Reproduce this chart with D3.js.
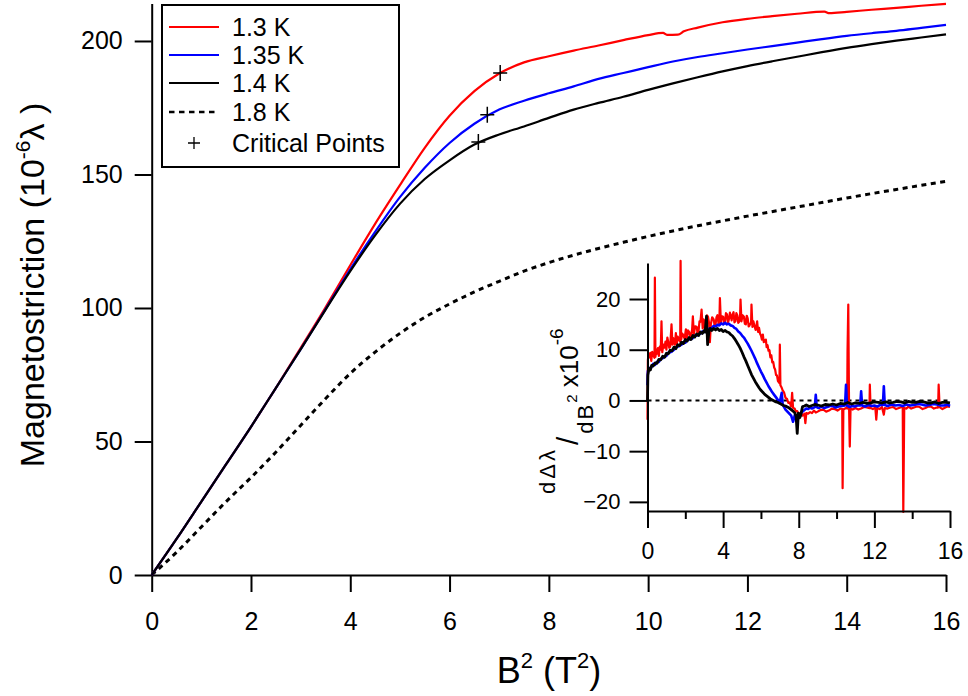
<!DOCTYPE html>
<html><head><meta charset="utf-8">
<script src="https://cdn.jsdelivr.net/npm/d3@7"></script>
<style>
body{margin:0;background:#fff}
svg{display:block}
text{font-family:"Liberation Sans",Arial,Helvetica,sans-serif;fill:#000}
</style>
</head><body>
<svg id="chart" width="968" height="696"></svg>
<script>
// ---------- data ----------
const mainXTicks = [0, 2, 4, 6, 8, 10, 12, 14, 16];
const mainYTicks = [0, 50, 100, 150, 200];
const insetXMajorTicks = [0, 4, 8, 12, 16];
const insetXMinorTicks = [2, 6, 10, 14];
const insetYTicks = [-20, -10, 0, 10, 20];
const legendLabels = ["1.3 K", "1.35 K", "1.4 K", "1.8 K", "Critical Points"];

const curve13K = [[0,0],[0.5,13.5],[1,27.5],[1.5,41.5],[2,55.5],[2.5,70],[3,85],[3.5,100.2],[4,116],[4.5,131.5],[5,146],[5.5,160],[6,172],[6.5,181.2],[7,187.8],[7.5,192],[8,194.3],[8.5,196.4],[9,198.3],[9.5,200.3],[10,202.2],[10.3,203],[10.38,202.3],[10.6,202.4],[10.72,203.6],[11,205],[11.5,207],[12,208.3],[12.5,209.3],[13,210.2],[13.55,211],[13.65,210.4],[14,210.9],[14.5,211.7],[15,212.4],[15.5,213.2],[16,213.9]];
const curve135K = [[0,0],[0.5,13.5],[1,27.5],[1.5,41.5],[2,55.5],[2.5,70],[3,84.5],[3.5,99.5],[4,114.5],[4.5,128.5],[5,141.5],[5.5,152.5],[6,161.8],[6.5,169],[7,174.3],[7.5,177.6],[8,180.4],[8.5,183],[9,185.8],[9.5,188],[10,190.2],[10.5,192.3],[11,194],[11.5,195.4],[12,196.8],[12.5,198.1],[13,199.4],[13.5,200.7],[14,201.9],[14.5,202.9],[15,203.8],[15.5,204.9],[16,206]];
const curve14K = [[0,0],[0.5,13.5],[1,27.5],[1.5,41.5],[2,55.5],[2.5,70],[3,84.5],[3.5,99.3],[4,113.8],[4.5,127.2],[5,139],[5.5,148.3],[6,155.3],[6.5,161.2],[7,165],[7.5,168],[8,171.2],[8.5,174.3],[9,176.8],[9.5,179.1],[10,181.7],[10.5,184.1],[11,186.4],[11.5,188.6],[12,190.6],[12.5,192.4],[13,194.1],[13.5,195.8],[14,197.4],[14.5,198.8],[15,200.1],[15.5,201.3],[16,202.5]];
const curve18K = [[0,0],[0.5,8.5],[1,18],[1.5,27.5],[2,36.5],[2.5,46],[3,56],[3.5,66],[4,75.5],[4.5,83.5],[5,90.5],[5.5,96.5],[6,101.5],[6.5,106],[7,110],[7.5,113.8],[8,117],[8.5,119.8],[9,122.3],[9.5,124.6],[10,126.8],[11,130.8],[12,134.4],[13,137.8],[14,141.2],[15,144.4],[16,147.4]];
const criticalPoints = [[7.02,188],[6.76,172.4],[6.58,162.2]];

const deriv13K = [[0,-3.8],[0.02,8],[0.06,9.2],[0.1,8.5],[0.15,9.4],[0.2,7.8],[0.25,9.6],[0.3,9],[0.37,8.4],[0.39,24.2],[0.42,8.6],[0.47,10],[0.5,9.2],[0.55,10.3],[0.6,8.8],[0.65,10.6],[0.7,10],[0.74,15.6],[0.78,9.5],[0.84,11],[0.9,10.4],[0.95,11.6],[1.0,10],[1.05,12.4],[1.1,11.5],[1.15,10.4],[1.2,10.6],[1.27,15],[1.32,11],[1.36,12.3],[1.4,11.8],[1.45,11],[1.5,13.3],[1.55,11.2],[1.6,12.6],[1.65,12],[1.73,11.6],[1.75,27.5],[1.78,12],[1.84,13.2],[1.9,12.8],[1.96,12.2],[2.03,14],[2.08,12.3],[2.14,13.8],[2.2,13.5],[2.25,12.7],[2.3,12.8],[2.36,14],[2.4,16.6],[2.45,13],[2.52,14.6],[2.6,14.5],[2.65,13.2],[2.7,13.6],[2.75,15.6],[2.8,15.5],[2.86,17.9],[2.92,14.2],[2.96,16],[3.0,15.8],[3.05,14],[3.1,14.5],[3.15,16.8],[3.2,16.5],[3.26,15.2],[3.3,11.5],[3.35,15],[3.42,16.4],[3.5,16],[3.55,14.8],[3.6,15],[3.65,16.4],[3.7,16.8],[3.76,15.1],[3.8,15.2],[3.83,20.2],[3.88,15.4],[3.94,16.6],[4.0,16.5],[4.05,15.2],[4.1,15.5],[4.15,17.2],[4.2,17],[4.26,15.3],[4.3,15.9],[4.36,17.3],[4.45,15.8],[4.5,16.9],[4.55,17.4],[4.6,15.4],[4.65,15.6],[4.7,17.2],[4.75,16.8],[4.8,15.3],[4.85,15.5],[4.9,16.9],[4.92,19.9],[4.97,15.6],[5.03,16.8],[5.1,16.5],[5.15,15.1],[5.2,15],[5.25,16.7],[5.3,16.2],[5.35,14.6],[5.4,14.8],[5.48,15.4],[5.5,18.9],[5.55,14.5],[5.6,15.6],[5.65,14.8],[5.72,13.9],[5.8,15.6],[5.85,13.5],[5.9,14.3],[5.95,13.2],[6.0,12.8],[6.05,12],[6.1,13],[6.15,11.5],[6.2,11.8],[6.26,12],[6.3,10.5],[6.35,10.9],[6.4,9.8],[6.45,9.9],[6.5,8.5],[6.55,8.9],[6.6,7.5],[6.65,7.6],[6.7,6.5],[6.75,6.1],[6.8,5],[6.85,4.9],[6.9,3.8],[6.98,3.4],[7.0,11],[7.03,3],[7.1,2.5],[7.15,2],[7.22,1.6],[7.3,0.5],[7.38,0.3],[7.45,-0.5],[7.52,-0.4],[7.6,-1.2],[7.65,1.5],[7.7,-1.5],[7.78,-1.6],[7.85,-2.2],[7.92,-2.1],[8.0,-2.8],[8.1,-2.4],[8.2,-3],[8.3,-2.6],[8.35,-4.5],[8.4,-2.5],[8.5,-2.6],[8.6,-2.3],[8.7,-2.5],[8.8,-2],[8.9,-2.4],[9.0,-2.2],[9.15,-1.9],[9.3,-1.8],[9.45,-2.2],[9.6,-2],[9.75,-1.6],[9.9,-1.7],[10.05,-2],[10.2,-1.6],[10.3,-1.7],[10.32,-17.3],[10.36,-1.8],[10.5,-1.5],[10.56,-1.6],[10.58,9.7],[10.62,18.9],[10.66,-1],[10.7,-9.1],[10.74,-1.6],[10.85,-1.8],[11.0,-1.5],[11.15,-1.8],[11.3,-1.6],[11.45,-1.3],[11.6,-1.4],[11.74,-1.5],[11.76,3.1],[11.8,-1.5],[11.92,-1.7],[12.05,-1.4],[12.1,-3.8],[12.15,-1.5],[12.28,-1.7],[12.4,-1.3],[12.5,-2.8],[12.55,-1.5],[12.7,-1.6],[12.85,-1.4],[13.0,-1.3],[13.15,-1.7],[13.3,-1.5],[13.45,-1.3],[13.5,-1.4],[13.53,-22],[13.58,-1.5],[13.7,-1.6],[13.8,-1.2],[13.95,-1.6],[14.1,-1.4],[14.25,-1.2],[14.4,-1.3],[14.55,-1.7],[14.7,-1.5],[14.85,-1.2],[15.0,-1.2],[15.15,-1.6],[15.3,-1.4],[15.37,-1.4],[15.4,3.1],[15.45,-1.3],[15.6,-1.7],[15.7,-1.5],[15.85,-1.2],[16,-1.3]];
const deriv135K = [[0,3],[0.02,5.8],[0.1,6.4],[0.2,6.5],[0.3,7.2],[0.4,7],[0.5,7.6],[0.6,7.6],[0.7,8.2],[0.8,8.3],[0.9,8.6],[1.0,8.8],[1.1,9.4],[1.2,9.5],[1.3,9.7],[1.4,10],[1.5,10.5],[1.6,10.6],[1.7,10.8],[1.8,11],[1.9,11.5],[2.0,11.4],[2.1,11.9],[2.2,12],[2.3,12.1],[2.4,12.3],[2.5,12.8],[2.6,12.8],[2.7,13],[2.8,13.2],[2.9,13.6],[3.0,13.5],[3.1,13.8],[3.2,14],[3.3,14.2],[3.4,14.3],[3.5,14.7],[3.6,14.6],[3.7,14.9],[3.8,14.8],[3.9,15.2],[4.0,15],[4.1,15.3],[4.2,15],[4.3,15.1],[4.4,14.8],[4.5,14.7],[4.6,14.3],[4.7,14.1],[4.8,13.6],[4.9,13.3],[5.0,12.8],[5.1,12.4],[5.2,11.8],[5.3,11.2],[5.4,10.5],[5.5,9.8],[5.6,9],[5.7,8.2],[5.8,7.3],[5.9,6.5],[6.0,5.7],[6.1,5],[6.2,4.2],[6.3,3.5],[6.4,2.8],[6.5,2.2],[6.6,1.6],[6.7,1.1],[6.8,0.6],[6.9,0.1],[7.0,-0.3],[7.1,1.5],[7.15,-0.8],[7.3,-1.8],[7.4,-2.2],[7.5,-2.6],[7.6,-3],[7.7,-4.2],[7.8,-2.8],[7.9,-3.2],[8.0,-3.5],[8.1,-2.6],[8.2,-2.2],[8.3,-1.9],[8.4,-1.6],[8.5,-1.7],[8.6,-1.4],[8.7,-1.6],[8.85,-1.3],[8.9,1.1],[8.95,-1.3],[9.05,-1.5],[9.2,-1.2],[9.35,-1.5],[9.5,-1.3],[9.65,-1.1],[9.8,-1.1],[9.95,-1.4],[10.1,-1.2],[10.3,-1.1],[10.45,-1.0],[10.5,3.1],[10.55,-1],[10.7,-1.3],[10.8,-1.1],[10.95,-1.2],[11.1,-1.0],[11.25,-1.0],[11.3,1.8],[11.35,-1],[11.5,-1.2],[11.7,-0.9],[11.85,-1.1],[12.0,-1.0],[12.15,-1.2],[12.3,-0.9],[12.45,-0.9],[12.5,2.8],[12.55,-0.9],[12.7,-1.1],[12.9,-0.8],[13.1,-1.0],[13.3,-0.9],[13.5,-1.1],[13.7,-0.8],[13.9,-1.0],[14.1,-0.9],[14.3,-0.7],[14.5,-0.8],[14.7,-1.0],[14.9,-0.9],[15.1,-0.7],[15.3,-0.8],[15.5,-1.0],[15.7,-1.0],[15.85,-0.8],[16,-1.1]];
const deriv14K = [[0,0],[0.02,5],[0.08,6.3],[0.15,6],[0.22,6.9],[0.3,6.8],[0.4,7.4],[0.5,7.3],[0.6,8.1],[0.7,8],[0.8,8.7],[0.9,8.5],[1.0,9.3],[1.1,9.2],[1.2,9.9],[1.3,9.8],[1.4,10.5],[1.5,10.2],[1.6,11],[1.7,10.8],[1.8,11.5],[1.9,11.2],[2.0,12],[2.1,11.7],[2.2,12.4],[2.3,12],[2.4,12.8],[2.5,12.5],[2.6,13.1],[2.7,12.8],[2.8,13.5],[2.9,13.2],[3.0,13.8],[3.05,13.5],[3.12,16.6],[3.18,11],[3.25,13.6],[3.32,14.2],[3.4,13.8],[3.5,14.2],[3.6,13.9],[3.7,14.2],[3.8,13.8],[3.9,14],[4.0,13.6],[4.1,13.8],[4.2,13.5],[4.3,13.4],[4.4,13],[4.5,12.7],[4.6,12.2],[4.7,11.6],[4.8,11],[4.9,10.3],[5.0,9.5],[5.1,8.6],[5.2,7.8],[5.3,6.9],[5.4,6],[5.5,5.1],[5.6,4.4],[5.7,3.7],[5.8,3.1],[5.9,2.5],[6.0,2],[6.1,1.6],[6.2,1.2],[6.3,0.9],[6.4,0.6],[6.5,0.3],[6.6,0.1],[6.7,-0.1],[6.8,-0.3],[6.9,-0.4],[7.0,-0.6],[7.1,-0.8],[7.2,-1],[7.3,-1.1],[7.4,-1.3],[7.5,-1.5],[7.6,-1.8],[7.7,-2.1],[7.8,-2.5],[7.86,-3.2],[7.92,-6.5],[7.98,-2.5],[8.05,-3.4],[8.1,-3],[8.2,-1.2],[8.3,-1.1],[8.4,-0.9],[8.55,-1.2],[8.7,-1],[8.85,-0.8],[9.0,-0.9],[9.2,-1.1],[9.4,-0.8],[9.6,-0.9],[9.8,-0.7],[10.0,-0.9],[10.2,-0.6],[10.4,-0.7],[10.6,-0.4],[10.8,-0.7],[11.0,-0.5],[11.2,-0.6],[11.4,-0.4],[11.6,-0.6],[11.8,-0.5],[12.0,-0.3],[12.2,-0.4],[12.4,-0.5],[12.6,-0.3],[12.8,-0.5],[13.0,-0.4],[13.2,-0.2],[13.4,-0.3],[13.6,-0.5],[13.8,-0.2],[14.0,-0.4],[14.2,-0.4],[14.4,-0.2],[14.6,-0.3],[14.8,-0.5],[15.0,-0.5],[15.2,-0.3],[15.4,-0.6],[15.6,-0.4],[15.8,-0.4],[16,-0.5]];

// ---------- drawing ----------
const svg = d3.select("#chart");
const FONT = '"Liberation Sans",Arial,sans-serif';

const x = d3.scaleLinear().domain([0, 16]).range([151.7, 946]);
const y = d3.scaleLinear().domain([0, 214]).range([575, 3.6]);

function styleAxis(g, fs) {
  g.select(".domain").attr("stroke", "#000").attr("stroke-width", 2);
  g.selectAll(".tick line").attr("stroke", "#000").attr("stroke-width", 2);
  g.selectAll(".tick text").attr("font-size", fs).attr("font-family", FONT).attr("fill", "#000");
}

const gx = svg.append("g").attr("transform", "translate(0,575)")
  .call(d3.axisBottom(x).tickValues(mainXTicks).tickSize(17).tickSizeOuter(0).tickPadding(20).tickFormat(d3.format("d")));
styleAxis(gx, 25);
const gy = svg.append("g").attr("transform", "translate(151.7,0)")
  .call(d3.axisLeft(y).tickValues(mainYTicks).tickSize(17).tickSizeOuter(0).tickPadding(12).tickFormat(d3.format("d")));
styleAxis(gy, 25);

const line = d3.line().x(d => x(d[0])).y(d => y(d[1])).curve(d3.curveMonotoneX);
svg.append("path").datum(curve18K).attr("d", line).attr("fill", "none")
  .attr("stroke", "#000").attr("stroke-width", 3).attr("stroke-dasharray", "5,4.5");
svg.append("path").datum(curve13K).attr("d", line).attr("fill", "none").attr("stroke", "#ff0000").attr("stroke-width", 2.2);
svg.append("path").datum(curve135K).attr("d", line).attr("fill", "none").attr("stroke", "#0000ff").attr("stroke-width", 2.2);
svg.append("path").datum(curve14K).attr("d", line).attr("fill", "none").attr("stroke", "#000").attr("stroke-width", 2.2);

svg.selectAll(".crit").data(criticalPoints).enter().append("path")
  .attr("transform", d => `translate(${x(d[0])},${y(d[1])})`)
  .attr("d", "M-7,0H7M0,-8V8").attr("stroke", "#000").attr("stroke-width", 1.5).attr("fill", "none");

// axis titles
const xt = svg.append("text").attr("x", 549).attr("y", 683).attr("text-anchor", "middle").attr("font-size", 36);
xt.append("tspan").text("B");
xt.append("tspan").attr("font-size", 22).attr("dy", -15).text("2");
xt.append("tspan").attr("dy", 15).text(" (T");
xt.append("tspan").attr("font-size", 22).attr("dy", -15).text("2");
xt.append("tspan").attr("dy", 15).text(")");

const yt = svg.append("text").attr("transform", "translate(44,285) rotate(-90)").attr("text-anchor", "middle").attr("font-size", 34);
yt.append("tspan").text("Magnetostriction (10");
yt.append("tspan").attr("font-size", 21).attr("dy", -14).text("-6");
yt.append("tspan").attr("dy", 14).text("λ )");

// legend
const leg = svg.append("g");
leg.append("rect").attr("x", 162).attr("y", 5).attr("width", 237).attr("height", 162)
  .attr("fill", "#fff").attr("stroke", "#000").attr("stroke-width", 2);
const rowY = [27, 55, 83, 112, 143];
const legStyles = [
  {c: "#ff0000", dash: null}, {c: "#0000ff", dash: null}, {c: "#000", dash: null}, {c: "#000", dash: "5.5,4.5"}
];
legStyles.forEach((s, i) => {
  leg.append("line").attr("x1", 169).attr("x2", 219).attr("y1", rowY[i]).attr("y2", rowY[i])
    .attr("stroke", s.c).attr("stroke-width", s.dash ? 2.5 : 2.2).attr("stroke-dasharray", s.dash);
});
leg.append("path").attr("transform", `translate(194,${rowY[4]})`).attr("d", "M-6,0H6M0,-6V6")
  .attr("stroke", "#000").attr("stroke-width", 1.3);
legendLabels.forEach((t, i) => {
  leg.append("text").attr("x", 232).attr("y", rowY[i] + 9).attr("font-size", 25).text(t);
});

// ---------- inset ----------
const xi = d3.scaleLinear().domain([0, 16]).range([647.5, 950]);
const yi = d3.scaleLinear().domain([-21.8, 27.1]).range([511, 263]);

svg.append("line").attr("x1", xi(0)).attr("x2", xi(16)).attr("y1", yi(0)).attr("y2", yi(0))
  .attr("stroke", "#000").attr("stroke-width", 2).attr("stroke-dasharray", "4,4");

const lineI = d3.line().x(d => xi(d[0])).y(d => yi(d[1]));
svg.append("path").datum(deriv13K).attr("d", lineI).attr("fill", "none").attr("stroke", "#ff0000").attr("stroke-width", 2.2).attr("stroke-linejoin", "round");
svg.append("path").datum(deriv135K).attr("d", lineI).attr("fill", "none").attr("stroke", "#0000ff").attr("stroke-width", 2.6).attr("stroke-linejoin", "round");
svg.append("path").datum(deriv14K).attr("d", lineI).attr("fill", "none").attr("stroke", "#000").attr("stroke-width", 2.8).attr("stroke-linejoin", "round");

const gxi = svg.append("g").attr("transform", "translate(0,511)")
  .call(d3.axisBottom(xi).tickValues(insetXMajorTicks).tickSize(17).tickSizeOuter(0).tickPadding(15).tickFormat(d3.format("d")));
styleAxis(gxi, 23);
const gxm = svg.append("g").attr("transform", "translate(0,511)")
  .call(d3.axisBottom(xi).tickValues(insetXMinorTicks).tickSize(8).tickSizeOuter(0).tickFormat(""));
gxm.select(".domain").remove();
gxm.selectAll(".tick line").attr("stroke", "#000").attr("stroke-width", 2);
const gyi = svg.append("g").attr("transform", `translate(${xi(0)},0)`)
  .call(d3.axisLeft(yi).tickValues(insetYTicks).tickSize(18).tickSizeOuter(0).tickPadding(9).tickFormat(d3.format("d")));
styleAxis(gyi, 22);

// inset y title
const it = svg.append("text").attr("transform", "translate(578,494) rotate(-90)").attr("font-size", 26);
it.append("tspan").attr("font-size", 22).attr("letter-spacing", 3).attr("dy", -23).text("dΔλ");
it.append("tspan").attr("font-size", 30).attr("dy", 23).attr("dx", 2).text("/");
it.append("tspan").attr("font-size", 22).attr("letter-spacing", 2).attr("dy", 15).attr("dx", 3).text("dB");
it.append("tspan").attr("font-size", 15).attr("dy", -16).text("2");
it.append("tspan").attr("dy", 1).text(" x10");
it.append("tspan").attr("font-size", 19).attr("dy", -15).text("-6");
</script>
</body></html>
